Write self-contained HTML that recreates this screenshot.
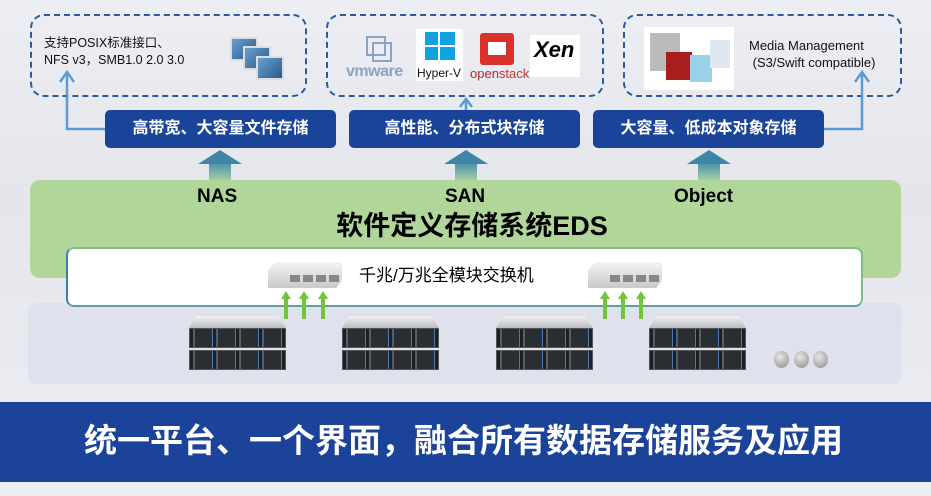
<!DOCTYPE html>
<html><head><meta charset="utf-8"><style>
*{margin:0;padding:0;box-sizing:border-box}
body{width:931px;height:496px;overflow:hidden;position:relative;background:linear-gradient(180deg,#eceef3 0%,#e4e6ec 40%,#eceef2 100%);font-family:"Liberation Sans","Noto Sans CJK SC",sans-serif}
.a{position:absolute}
.dash{position:absolute;border:2px dashed #2c5aa0;border-radius:14px}
.lbl{position:absolute;background:#1a4499;color:#fff;border-radius:5px;font-size:16px;font-weight:bold;text-align:center;line-height:38px;height:38px;top:110px}
.up{position:absolute;top:150px;width:44px;height:30px}
.up:before{content:"";position:absolute;left:0;top:0;border-left:22px solid transparent;border-right:22px solid transparent;border-bottom:14px solid #3f86a6}
.up:after{content:"";position:absolute;left:11px;top:14px;width:22px;height:16px;background:linear-gradient(#4e94ae,#a5cfa3)}
.srv{position:absolute;width:97px}
.lid{height:12px;background:linear-gradient(#f2f3f5,#b9bcc2);clip-path:polygon(8% 0,92% 0,100% 100%,0 100%)}
.fr{height:20px;background:#1d1f22;margin-bottom:2px;background-image:repeating-linear-gradient(90deg,#1d1f22 0 3px,#55606a 3px 5px,#2a2e33 5px 22px,#4a7ab0 22px 23px);border:1px solid #555}
.sw{position:absolute;width:74px;height:26px;background:linear-gradient(#f4f4f4,#c9c9c9);clip-path:polygon(10% 0,100% 0,100% 70%,92% 100%,0 100%,0 30%)}
.sw i{position:absolute;top:13px;width:10px;height:7px;background:#888}
.ga{position:absolute;width:10px;height:28px;top:291px}
.ga:before{content:"";position:absolute;left:0;top:0;border-left:5px solid transparent;border-right:5px solid transparent;border-bottom:8px solid #74c33a}
.ga:after{content:"";position:absolute;left:3px;top:8px;width:4px;height:20px;background:#74c33a}
.dot{position:absolute;top:351px;width:15px;height:17px;border-radius:50%;background:radial-gradient(circle at 40% 35%,#e6e6e6,#8a8a8a)}
</style></head><body>

<div class="dash" style="left:30px;top:14px;width:277px;height:83px"></div>
<div class="dash" style="left:326px;top:14px;width:278px;height:83px"></div>
<div class="dash" style="left:623px;top:14px;width:279px;height:83px"></div>

<div class="a" style="left:44px;top:35px;font-size:12.5px;line-height:17px;color:#111">支持POSIX标准接口、<br>NFS v3，SMB1.0 2.0 3.0</div>
<div class="a" style="left:230px;top:37px;width:28px;height:24px;background:linear-gradient(135deg,#6aa0d0,#2a5a8a);border:2px solid #ddd"></div>
<div class="a" style="left:243px;top:46px;width:28px;height:24px;background:linear-gradient(135deg,#6aa0d0,#2a5a8a);border:2px solid #ddd"></div>
<div class="a" style="left:256px;top:56px;width:28px;height:24px;background:linear-gradient(135deg,#6aa0d0,#2a5a8a);border:2px solid #ddd"></div>

<div class="a" style="left:366px;top:36px;width:20px;height:20px;border:2px solid #8aa2c4"></div>
<div class="a" style="left:372px;top:42px;width:20px;height:20px;border:2px solid #8aa2c4"></div>
<div class="a" style="left:346px;top:63px;font-size:16px;color:#8aa2c4;font-weight:bold;letter-spacing:-0.5px">vmware</div>
<div class="a" style="left:416px;top:29px;width:47px;height:52px;background:#fff"></div>
<div class="a" style="left:425px;top:32px;width:30px;height:28px;background:linear-gradient(90deg,transparent 13px,#fff 13px,#fff 15px,transparent 15px),linear-gradient(transparent 13px,#fff 13px,#fff 15px,transparent 15px),#11a2e0"></div>
<div class="a" style="left:417px;top:66px;font-size:12px;color:#111">Hyper-V</div>
<div class="a" style="left:480px;top:33px;width:34px;height:32px;background:#d8322a;border-radius:3px"></div>
<div class="a" style="left:488px;top:42px;width:18px;height:13px;background:#fff"></div>
<div class="a" style="left:470px;top:66px;font-size:13px;color:#b23;">open<span style="color:#c33">stack</span></div>
<div class="a" style="left:530px;top:35px;width:50px;height:42px;background:#fff;font:italic bold 22px 'Liberation Sans',sans-serif;color:#000;padding-left:4px;line-height:30px">Xen</div>

<div class="a" style="left:644px;top:27px;width:90px;height:63px;background:#fff"></div>
<div class="a" style="left:650px;top:33px;width:30px;height:38px;background:#bbb"></div>
<div class="a" style="left:666px;top:52px;width:26px;height:28px;background:#a81e1e"></div>
<div class="a" style="left:690px;top:55px;width:22px;height:27px;background:#9ccfe8"></div>
<div class="a" style="left:710px;top:40px;width:20px;height:28px;background:#dfe8f0"></div>
<div class="a" style="left:749px;top:37px;font-size:13px;line-height:17px;color:#111">Media Management<br>&nbsp;(S3/Swift compatible)</div>

<svg class="a" style="left:0;top:0" width="931" height="180">
<g fill="none" stroke="#5b9bd5" stroke-width="2.5">
<polyline points="105,129 67,129 67,72"/>
<polyline points="60,82 67,72 74,82"/>
<polyline points="823,129 862,129 862,72"/>
<polyline points="855,82 862,72 869,82"/>
<polyline points="466,110 466,100"/>
<polyline points="460,107 466,99 472,107"/>
</g></svg>

<div class="lbl" style="left:105px;width:231px">高带宽、大容量文件存储</div>
<div class="lbl" style="left:349px;width:231px">高性能、分布式块存储</div>
<div class="lbl" style="left:593px;width:231px">大容量、低成本对象存储</div>

<div class="up" style="left:198px"></div>
<div class="up" style="left:444px"></div>
<div class="up" style="left:687px"></div>

<div class="a" style="left:30px;top:180px;width:871px;height:98px;background:#b1d699;border-radius:10px"></div>
<div class="a" style="left:197px;top:186px;font-size:19px;font-weight:bold;color:#000">NAS</div>
<div class="a" style="left:445px;top:186px;font-size:19px;font-weight:bold;color:#000">SAN</div>
<div class="a" style="left:674px;top:186px;font-size:19px;font-weight:bold;color:#000">Object</div>
<div class="a" style="left:0;width:944px;top:204px;text-align:center;font-size:27px;font-weight:bold;color:#000">软件定义存储系统EDS</div>

<div class="a" style="left:28px;top:303px;width:874px;height:81px;background:#dfe2ec;border-radius:8px"></div>
<div class="a" style="left:66px;top:247px;width:797px;height:60px;background:#fff;border-radius:8px;border:2px solid #7cbf8a;border-left-color:#3c7fa8;border-bottom-color:#5a9fa8"></div>
<div class="a" style="left:359px;top:261px;font-size:17px;color:#000">千兆/万兆全模块交换机</div>

<div class="sw" style="left:268px;top:262px"><i style="left:22px"></i><i style="left:35px"></i><i style="left:48px"></i><i style="left:61px"></i></div>
<div class="sw" style="left:588px;top:262px"><i style="left:22px"></i><i style="left:35px"></i><i style="left:48px"></i><i style="left:61px"></i></div>

<div class="ga" style="left:281px"></div><div class="ga" style="left:299px"></div><div class="ga" style="left:318px"></div>
<div class="ga" style="left:600px"></div><div class="ga" style="left:618px"></div><div class="ga" style="left:636px"></div>

<div class="srv" style="left:189px;top:316px"><div class="lid"></div><div class="fr"></div><div class="fr"></div></div>
<div class="srv" style="left:342px;top:316px"><div class="lid"></div><div class="fr"></div><div class="fr"></div></div>
<div class="srv" style="left:496px;top:316px"><div class="lid"></div><div class="fr"></div><div class="fr"></div></div>
<div class="srv" style="left:649px;top:316px"><div class="lid"></div><div class="fr"></div><div class="fr"></div></div>

<div class="dot" style="left:774px"></div><div class="dot" style="left:794px"></div><div class="dot" style="left:813px"></div>

<div class="a" style="left:0;top:402px;width:931px;height:80px;background:#1a4399"></div>
<div class="a" style="left:0;top:420px;width:927px;text-align:center;font-size:33px;font-weight:bold;color:#fff;line-height:42px">统一平台、一个界面，融合所有数据存储服务及应用</div>
</body></html>
